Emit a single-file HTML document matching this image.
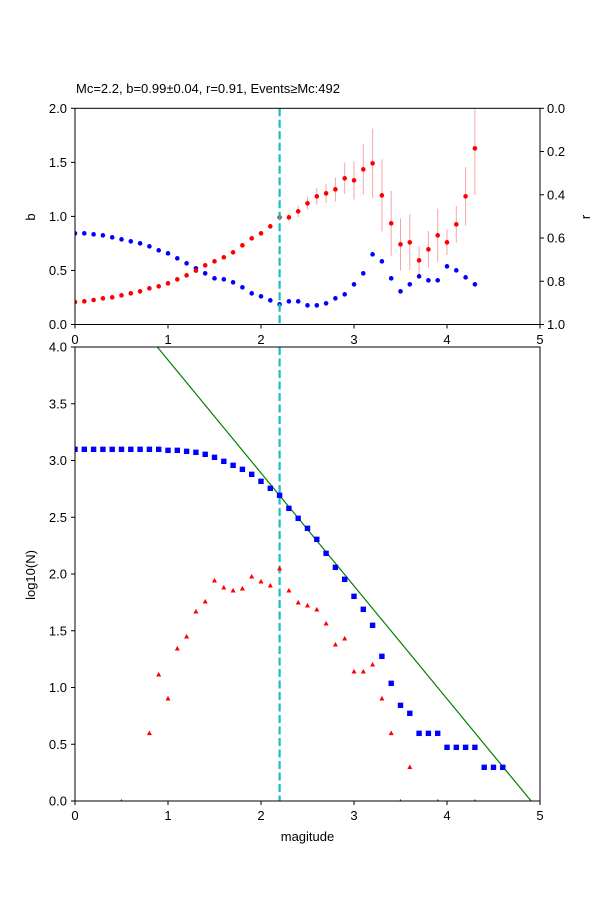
<!DOCTYPE html>
<html><head><meta charset="utf-8"><style>body{margin:0;background:#fff}svg{display:block}text{font-family:"Liberation Sans","DejaVu Sans",sans-serif;font-size:13px;fill:#000}</style></head>
<body><svg id="s" width="600" height="900" xmlns="http://www.w3.org/2000/svg"></svg>
<script>
const s=document.getElementById('s');let h='';
const X=m=>75+93*m;
h+='<text x="76" y="93">Mc=2.2, b=0.99±0.04, r=0.91, Events≥Mc:492</text>';
const T0=108.3,B0=324.5,TH=B0-T0;
const eb=[[2.2,10],[2.3,12],[2.4,17],[2.5,18],[2.6,25],[2.7,29],[2.8,36],[2.9,47],[3.0,57],[3.1,76],[3.2,104],[3.3,108],[3.4,97],[3.5,78],[3.6,84],[3.7,42],[3.8,55],[3.9,80],[4.0,38],[4.1,55],[4.2,88],[4.3,140]];
const red=[636,634,630,625,622,616,610,604,595,589,580,568,556,542,526,514,502,487,466,445,430,409,382,382,364,340,319,310,298,265,271,238,220,316,400,463,457,511,478,436,457,403,319,175];
const blue=[430,430,433,436,442,448,454,460,469,481,490,505,520,535,550,565,568,577,592,610,619,631,643,634,634,646,646,640,625,613,583,550,493,514,565,604,583,559,571,571,529,541,562,583];
h+=`<clipPath id="c1"><rect x="75" y="${T0}" width="465" height="${TH}"/></clipPath><g clip-path="url(#c1)">`;
eb.forEach(([m,e])=>{const i=Math.round(m*10);const y=90+red[i]/3;h+=`<line x1="${X(m)}" x2="${X(m)}" y1="${y-e/3}" y2="${y+e/3}" stroke="#f4a6a6" stroke-width="1"/>`;});
blue.forEach((v,i)=>h+=`<circle cx="${X(i/10)}" cy="${90+v/3}" r="2.3" fill="#0000ff"/>`);
red.forEach((v,i)=>h+=`<circle cx="${X(i/10)}" cy="${90+v/3}" r="2.3" fill="#ff0000"/>`);
h+='</g>';
h+=`<line x1="279.6" x2="279.6" y1="${T0}" y2="${B0}" stroke="#17bfc0" stroke-width="2.2" stroke-dasharray="8,3.5"/>`;
h+=`<rect x="75" y="${T0}" width="465" height="${TH}" fill="none" stroke="#000" stroke-width="1"/>`;
for(let i=0;i<=4;i++){const y=B0-TH/4*i;h+=`<line x1="71" x2="75" y1="${y}" y2="${y}" stroke="#000"/><text x="67" y="${y+4.5}" text-anchor="end">${(i*0.5).toFixed(1)}</text>`;}
for(let i=0;i<=5;i++){const y=T0+TH/5*i;h+=`<line x1="540" x2="544" y1="${y}" y2="${y}" stroke="#000"/><text x="547" y="${y+4.5}">${(i*0.2).toFixed(1)}</text>`;}
for(let i=0;i<=5;i++){h+=`<line x1="${X(i)}" x2="${X(i)}" y1="${B0}" y2="${B0+4}" stroke="#000"/><text x="${X(i)}" y="344" text-anchor="middle">${i}</text>`;}
h+='<text transform="translate(35,217) rotate(-90)" text-anchor="middle">b</text>';
h+='<text transform="translate(590,217) rotate(-90)" text-anchor="middle">r</text>';
// bottom
const bs=[328,328,328,328,328,328,328,328,328,328,331,331,334,337,343,352,364,376,388,403,424,445,466,505,535,565,598,640,682,718,769,808,856,949,1030,1096,1120,1180,1180,1180,1222,1222,1222,1222,1282,1282,1282];
const rt=[[0.5,1385],[0.8,1180],[0.9,1004],[1.0,1076],[1.1,926],[1.2,890],[1.3,815],[1.4,785],[1.5,722],[1.6,743],[1.7,752],[1.8,746],[1.9,710],[2.0,725],[2.1,737],[2.2,686],[2.3,752],[2.4,788],[2.5,797],[2.6,809],[2.7,851],[2.8,914],[2.9,896],[3.0,995],[3.1,995],[3.2,974],[3.3,1076],[3.4,1180],[3.5,1385],[3.6,1282],[3.9,1385],[4.3,1385]];
h+='<clipPath id="c2"><rect x="75" y="347" width="465" height="454"/></clipPath><g clip-path="url(#c2)">';
h+='<line x1="157.3" y1="347" x2="531.7" y2="801.7" stroke="#008000" stroke-width="1.2"/>';
h+=`<line x1="279.6" x2="279.6" y1="347" y2="801" stroke="#17bfc0" stroke-width="2.2" stroke-dasharray="8,3.5"/>`;
bs.forEach((v,i)=>{const y=340+v/3;h+=`<rect x="${X(i/10)-2.7}" y="${y-2.7}" width="5.4" height="5.4" fill="#0000ff"/>`;});
rt.forEach(([m,v])=>{const x=X(m),y=340+v/3;h+=`<polygon points="${x},${y-2.8} ${x-2.5},${y+1.8} ${x+2.5},${y+1.8}" fill="#ff0000"/>`;});
h+='</g>';
h+='<rect x="75" y="347" width="465" height="454" fill="none" stroke="#000" stroke-width="1"/>';
for(let i=0;i<=8;i++){const y=801-56.75*i;h+=`<line x1="71" x2="75" y1="${y}" y2="${y}" stroke="#000"/><text x="67" y="${y+4.5}" text-anchor="end">${(i*0.5).toFixed(1)}</text>`;}
for(let i=0;i<=5;i++){h+=`<line x1="${X(i)}" x2="${X(i)}" y1="801" y2="805" stroke="#000"/><text x="${X(i)}" y="820" text-anchor="middle">${i}</text>`;}
h+='<text transform="translate(35,575) rotate(-90)" text-anchor="middle">log10(N)</text>';
h+='<text x="307.5" y="841" text-anchor="middle">magitude</text>';
s.innerHTML=h;
</script></body></html>
